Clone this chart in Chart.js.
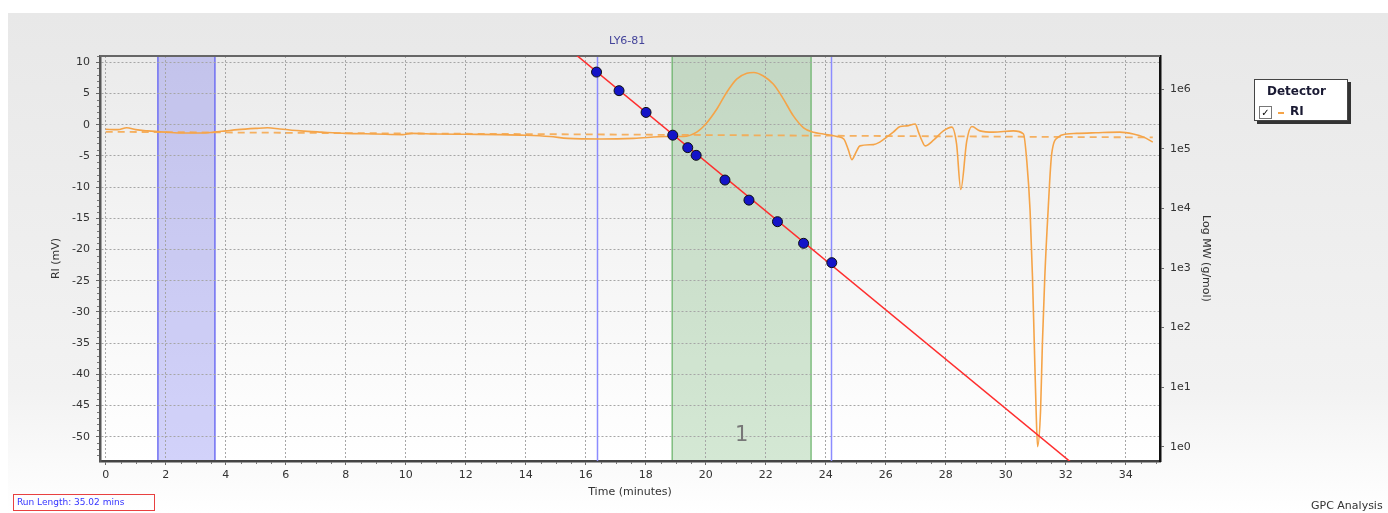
<!DOCTYPE html>
<html>
<head>
<meta charset="utf-8">
<script src="https://cdn.jsdelivr.net/npm/chart.js@4.4.1/dist/chart.umd.min.js"></script>
<style>
  body { margin: 0; background: #fff; }
  #wrap { position: relative; width: 1388px; height: 513px; overflow: hidden; font-family: "DejaVu Sans", sans-serif; }
  #chart { position: absolute; left: 0; top: 0; }
  #legend { position: absolute; left: 1254px; top: 79px; width: 92px; height: 40px; background: #fff;
            border: 1px solid #444; box-shadow: 3px 3px 0 #333; font: bold 12px "DejaVu Sans", sans-serif; color: #1a1a33; }
  #legend .title { position: absolute; left: 12px; top: 4px; }
  #legend .box { position: absolute; left: 4px; top: 26px; width: 11px; height: 11px; border: 1px solid #777; background: #fff;
                 font: bold 10px "DejaVu Sans"; line-height: 11px; text-align: center; color: #000; }
  #legend .dash { position: absolute; left: 23px; top: 32px; width: 6px; height: 2px; background: #f5a448; }
  #legend .name { position: absolute; left: 35px; top: 24px; }
  #runlen { position: absolute; left: 13px; top: 494px; width: 137px; height: 15px; border: 1px solid #e84040;
            font: 9px "DejaVu Sans", sans-serif; color: #3434ff; line-height: 15px; padding-left: 3px; box-sizing: content-box; }
  #gpc { position: absolute; left: 1311px; top: 499px; font: 11px "DejaVu Sans", sans-serif; color: #333; white-space: nowrap; }
</style>
</head>
<body>
<div id="wrap">
  <canvas id="chart" width="1388" height="513"></canvas>
  <div id="legend">
    <div class="title">Detector</div>
    <div class="box">✓</div>
    <div class="dash"></div>
    <div class="name">RI</div>
  </div>
  <div id="runlen">Run Length: 35.02 mins</div>
  <div id="gpc">GPC Analysis</div>
</div>
<script>
// RI detector trace (time in minutes, signal in mV)
const riTime = [0.0, 0.4, 0.7, 1.0, 1.4, 2.0, 2.6, 3.2, 3.6, 4.0, 4.4, 5.0, 5.4, 5.8, 6.5, 7.2, 8.0, 9.0, 9.9, 10.2,
  11.0, 12.0, 13.1, 14.0, 14.8, 15.4, 16.5, 17.6, 18.7, 19.25, 19.7, 20.0, 20.37, 20.7, 21.03, 21.37, 21.6, 21.92, 22.25, 22.59,
  22.92, 23.26, 23.59, 23.92, 24.37, 24.6, 24.75, 24.87, 25.0, 25.14, 25.59, 25.8, 26.03, 26.25, 26.48, 26.7, 26.98, 27.09,
  27.2, 27.31, 27.59, 27.92, 28.2, 28.36, 28.5, 28.7, 28.87, 29.14, 29.59, 30.25, 30.59, 30.7, 30.81, 30.89, 30.95, 31.01, 31.06, 31.16,
  31.22, 31.3, 31.41, 31.53, 31.75, 32.03, 32.36, 33.0, 33.8, 34.25, 34.6, 34.9];
const riSignal = [-0.75, -0.8, -0.5, -0.8, -1.0, -1.2, -1.35, -1.35, -1.2, -1.0, -0.8, -0.6, -0.5, -0.7, -1.0, -1.2, -1.4, -1.5, -1.6, -1.4,
  -1.5, -1.55, -1.6, -1.7, -1.9, -2.2, -2.3, -2.2, -1.9, -1.9, -1.2, 0.1, 2.5, 5.2, 7.3, 8.25, 8.36, 7.8, 6.5, 4.1,
  1.4, -0.5, -1.23, -1.5, -1.9, -2.3, -4.0, -5.6, -4.5, -3.4, -3.2, -2.8, -2.0, -1.2, -0.3, -0.2, 0.1, -1.2,
  -2.5, -3.4, -2.5, -1.0, -0.4, -3.1, -10.4, -2.6, -0.3, -1.0, -1.2, -1.0, -1.5, -5.8, -13.8, -24.4, -35.1, -45.7, -51.6, -45.7,
  -35.1, -24.4, -13.8, -4.7, -2.0, -1.5, -1.4, -1.3, -1.2, -1.5, -2.0, -2.8];

// baseline (dashed)
const baseTime = [0.0, 34.9];
const baseSignal = [-1.15, -2.05];

// calibration standards (time, MW in g/mol)
const calTime = [16.36, 17.11, 18.01, 18.9, 19.4, 19.68, 20.64, 21.44, 22.39, 23.26, 24.2];
const calMW = [1.95e6, 9.5e5, 4.1e5, 1.7e5, 1.05e5, 7.8e4, 3.0e4, 1.38e4, 6.0e3, 2.6e3, 1.23e3];

// calibration fit line
const fitTime = [15.5, 32.4];
const fitMW = [4.5e6, 0.44];

// regions
const solventRegion = [1.74, 3.64];
const peakRegion = [18.88, 23.51];
const peakLabel = '1';
const markerTimes = [16.38, 24.18];
const sampleName = 'LY6-81';
const sampleNameTime = 17.38;

// axis ticks
const timeTicks = [0, 2, 4, 6, 8, 10, 12, 14, 16, 18, 20, 22, 24, 26, 28, 30, 32, 34];
const riTicks = [-50, -45, -40, -35, -30, -25, -20, -15, -10, -5, 0, 5, 10];
const mwTicks = [1, 10, 100, 1e3, 1e4, 1e5, 1e6];

const toPts = (xs, ys) => xs.map((x, i) => ({ x, y: ys[i] }));
const tickFont = { family: 'DejaVu Sans', size: 11 };
const titleFont = { family: 'DejaVu Sans', size: 11 };
const textColor = '#333';
const gridColor = '#a6a6a6';

// backgrounds and shaded regions, drawn under the grid
const backdrop = {
  id: 'backdrop',
  beforeDraw(chart) {
    const { ctx, chartArea: a, scales: { x } } = chart;
    ctx.save();
    ctx.fillStyle = '#fff';
    ctx.fillRect(0, 0, chart.width, chart.height);
    let g = ctx.createLinearGradient(0, 13, 0, chart.height);
    g.addColorStop(0, '#e8e8e8');
    g.addColorStop(0.75, '#f2f2f2');
    g.addColorStop(1, '#ffffff');
    ctx.fillStyle = g;
    ctx.fillRect(8, 13, chart.width - 8, chart.height - 13);
    g = ctx.createLinearGradient(0, a.top, 0, a.bottom);
    g.addColorStop(0, '#ebebeb');
    g.addColorStop(1, '#ffffff');
    ctx.fillStyle = g;
    ctx.fillRect(a.left, a.top, a.right - a.left, a.bottom - a.top);

    // solvent region (blue)
    let x0 = x.getPixelForValue(solventRegion[0]), x1 = x.getPixelForValue(solventRegion[1]);
    ctx.fillStyle = 'rgba(90,90,235,0.27)';
    ctx.fillRect(x0, a.top, x1 - x0, a.bottom - a.top);
    ctx.strokeStyle = '#6f6ff2';
    ctx.lineWidth = 1.5;
    ctx.strokeRect(x0, a.top, x1 - x0, a.bottom - a.top);

    // peak region (green)
    x0 = x.getPixelForValue(peakRegion[0]); x1 = x.getPixelForValue(peakRegion[1]);
    ctx.fillStyle = 'rgba(40,140,40,0.2)';
    ctx.fillRect(x0, a.top, x1 - x0, a.bottom - a.top);
    ctx.strokeStyle = '#66b266';
    ctx.lineWidth = 1.2;
    ctx.strokeRect(x0, a.top, x1 - x0, a.bottom - a.top);
    ctx.restore();
  },
  beforeDatasetsDraw(chart) {
    const { ctx, chartArea: a, scales: { x, y } } = chart;
    ctx.save();
    // marker lines
    ctx.strokeStyle = '#8c8cff';
    ctx.lineWidth = 1.5;
    markerTimes.forEach(t => {
      const px = Math.round(x.getPixelForValue(t)) + 0.5;
      ctx.beginPath(); ctx.moveTo(px, a.top); ctx.lineTo(px, a.bottom); ctx.stroke();
    });
    // peak number
    ctx.fillStyle = '#777';
    ctx.font = '21px "DejaVu Sans"';
    ctx.textAlign = 'center';
    ctx.textBaseline = 'middle';
    ctx.fillText(peakLabel, x.getPixelForValue((peakRegion[0] + peakRegion[1]) / 2), y.getPixelForValue(-49.8));
    // sample name
    ctx.fillStyle = '#44449a';
    ctx.font = '11px "DejaVu Sans"';
    ctx.fillText(sampleName, x.getPixelForValue(sampleNameTime), a.top - 15);
    // top frame line
    ctx.strokeStyle = '#666';
    ctx.lineWidth = 2;
    ctx.beginPath(); ctx.moveTo(a.left, a.top); ctx.lineTo(a.right, a.top); ctx.stroke();
    // minor ticks
    ctx.strokeStyle = '#777';
    ctx.lineWidth = 1;
    ctx.beginPath();
    for (let t = 0.5; t < x.max; t += 0.5) {
      if (t % 2 === 0) continue;
      const px = Math.round(x.getPixelForValue(t)) + 0.5;
      ctx.moveTo(px, a.bottom + 1); ctx.lineTo(px, a.bottom + 3);
    }
    for (let v = -53; v <= 11; v++) {
      if (v % 5 === 0) continue;
      const py = Math.round(y.getPixelForValue(v)) + 0.5;
      ctx.moveTo(a.left - 3, py); ctx.lineTo(a.left - 1, py);
    }
    ctx.stroke();
    ctx.restore();
  }
};

new Chart(document.getElementById('chart'), {
  type: 'line',
  data: {
    datasets: [
      {
        label: 'Calibration standards',
        data: toPts(calTime, calMW),
        yAxisID: 'y2',
        showLine: false,
        pointRadius: 5,
        pointBackgroundColor: '#1414c8',
        pointBorderColor: '#111',
        pointBorderWidth: 1,
        order: 0
      },
      {
        label: 'Calibration fit',
        data: toPts(fitTime, fitMW),
        yAxisID: 'y2',
        borderColor: '#ff2e2e',
        borderWidth: 1.5,
        pointRadius: 0,
        order: 1
      },
      {
        label: 'RI',
        data: toPts(riTime, riSignal),
        yAxisID: 'y',
        borderColor: '#f5a448',
        borderWidth: 1.6,
        pointRadius: 0,
        cubicInterpolationMode: 'monotone',
        order: 2
      },
      {
        label: 'Baseline',
        data: toPts(baseTime, baseSignal),
        yAxisID: 'y',
        borderColor: 'rgba(245,168,80,0.9)',
        borderWidth: 1.8,
        borderDash: [7, 5],
        pointRadius: 0,
        order: 3
      }
    ]
  },
  options: {
    responsive: false,
    animation: false,
    devicePixelRatio: 1,
    layout: { padding: { top: 56, left: 0, right: 0, bottom: 0 } },
    plugins: { legend: { display: false }, tooltip: { enabled: false } },
    scales: {
      x: {
        type: 'linear',
        min: -0.19,
        max: 35.14,
        afterBuildTicks: s => { s.ticks = timeTicks.map(v => ({ value: v })); },
        afterFit: s => { s.height = 52; },
        ticks: { font: tickFont, color: textColor, padding: 4, maxRotation: 0 },
        grid: { color: gridColor, lineWidth: 1, tickLength: 4, tickColor: '#666' },
        border: { color: '#444', width: 2.5, dash: [2, 2] },
        title: { display: true, text: 'Time (minutes)', font: titleFont, color: textColor, padding: { top: 14, bottom: 14 } }
      },
      y: {
        type: 'linear',
        position: 'left',
        min: -53.9,
        max: 11.0,
        afterBuildTicks: s => { s.ticks = riTicks.map(v => ({ value: v })); },
        afterFit: s => { s.width = 100; },
        ticks: { font: tickFont, color: textColor, padding: 6 },
        grid: { color: gridColor, lineWidth: 1, tickLength: 4, tickColor: '#666' },
        border: { color: '#555', width: 2.5, dash: [2, 2] },
        title: { display: true, text: 'RI (mV)', font: titleFont, color: textColor, padding: { top: 50, bottom: 0 } }
      },
      y2: {
        type: 'logarithmic',
        position: 'right',
        min: 0.575,
        max: 3.63e6,
        afterBuildTicks: s => { s.ticks = mwTicks.map(v => ({ value: v })); },
        afterFit: s => { s.width = 228; },
        ticks: {
          font: tickFont, color: textColor, padding: 6,
          callback: v => '1e' + Math.round(Math.log10(v))
        },
        grid: { drawOnChartArea: false, tickLength: 4, tickColor: '#666' },
        border: { color: '#111', width: 2.5 },
        title: { display: true, text: 'Log MW (g/mol)', font: titleFont, color: textColor, padding: { top: 176, bottom: 0 } }
      }
    }
  },
  plugins: [backdrop]
});
</script>
</body>
</html>
